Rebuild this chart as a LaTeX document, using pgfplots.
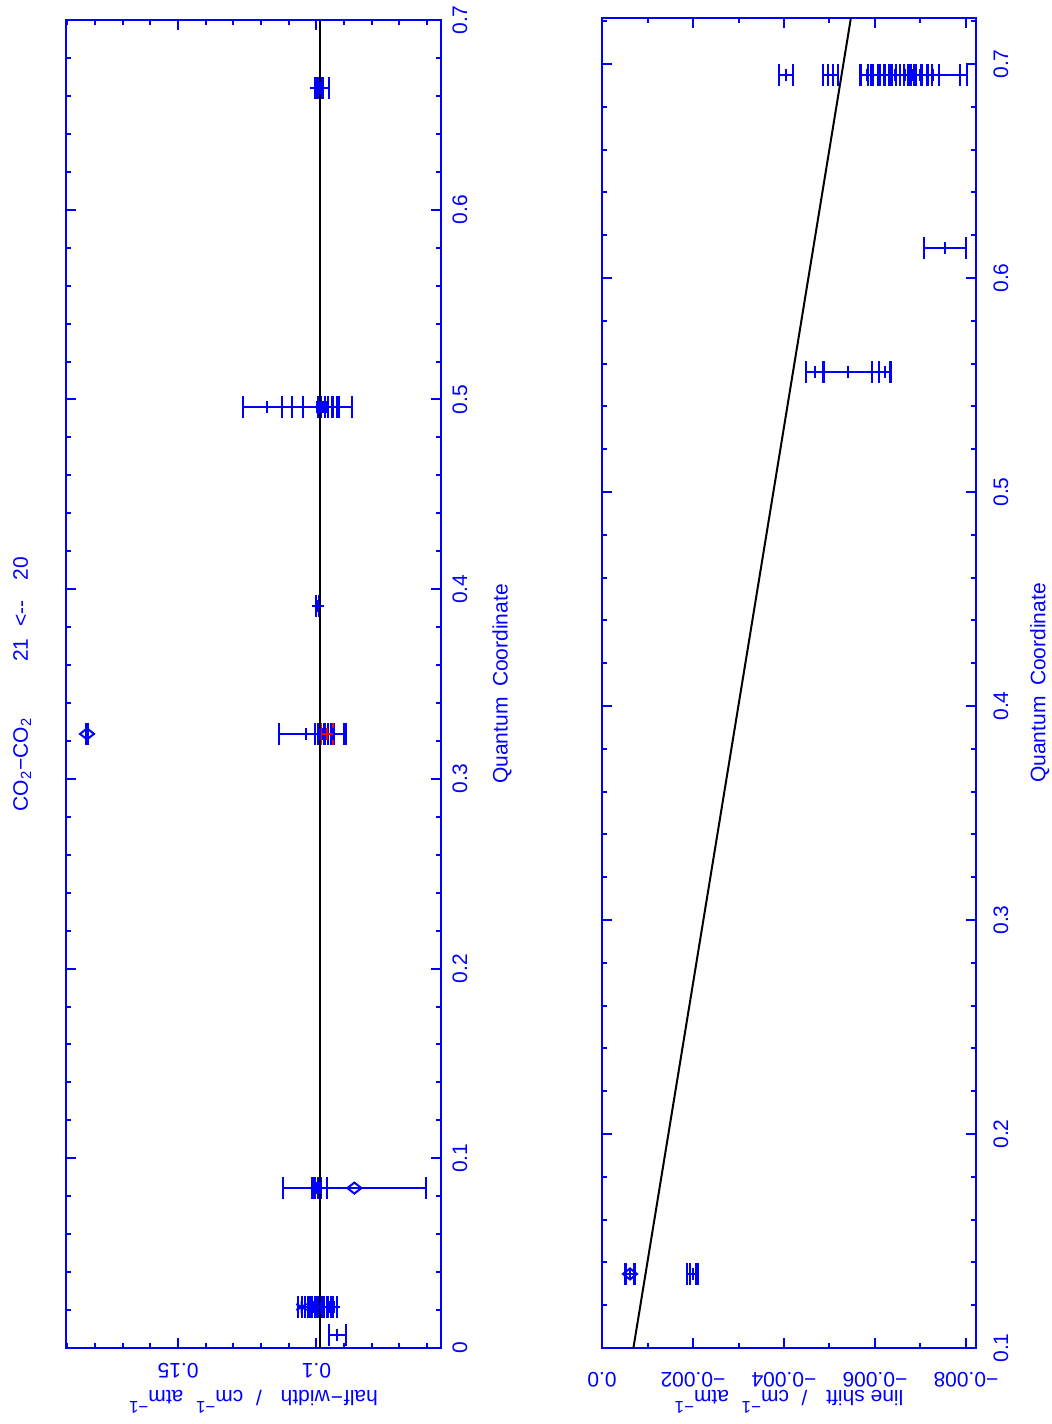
\documentclass[border=0pt]{standalone}
\usepackage{pgfplots}
\pgfplotsset{compat=1.18}
\usepackage{pgfplotstable}
\usepackage{fontspec}
\setmainfont{Liberation Sans}
\definecolor{pgblue}{RGB}{0,0,255}
\definecolor{pgred}{RGB}{255,0,0}
\newcommand{\supm}{\raisebox{0.5em}{\fontsize{8.5}{9}\selectfont −1}}

% left panel: x = half-width, y = quantum coordinate, e = error of half-width
\pgfplotstableread{
x y e
0.0924 0.0068 0.0029
0.1040 0.0216 0.0011
0.1029 0.0216 0.0014
0.1014 0.0216 0.0011
0.1004 0.0216 0.0011
0.0993 0.0216 0.0014
0.0982 0.0216 0.0011
0.0971 0.0216 0.0014
0.0960 0.0216 0.0011
0.0950 0.0216 0.0011
0.0938 0.0216 0.0011
0.1004 0.0843 0.0011
0.0993 0.0843 0.0011
0.0986 0.0843 0.0025
0.1000 0.0843 0.0007
0.1036 0.3237 0.0101
0.0993 0.3237 0.0011
0.0989 0.3237 0.0007
0.0975 0.3237 0.0018
0.0957 0.3237 0.0011
0.0941 0.3237 0.0049
0.0935 0.3237 0.0036
0.0993 0.3911 0.0007
0.0996 0.3911 0.0004
0.1177 0.4960 0.0090
0.0998 0.4960 0.0128
0.0987 0.4960 0.0063
0.0968 0.4960 0.0025
0.0975 0.4960 0.0018
0.0961 0.4960 0.0022
0.0979 0.4960 0.0011
0.0921 0.4960 0.0004
0.0996 0.6642 0.0011
0.1000 0.6642 0.0007
0.0978 0.6642 0.0022
0.0989 0.6642 0.0011
}\hwplus
\pgfplotstableread{
x y e
0.0863 0.0843 0.0258
0.1829 0.3237 0.0004
}\hwdiam
\pgfplotstableread{
x y e
0.1054 0.0216 0.0011
}\hwast
\pgfplotstableread{
x y e
0.0962 0.3237 0.0020
}\hwred

% right panel: x = line shift, y = quantum coordinate, e = error of line shift
\pgfplotstableread{
x y e
-0.00062 0.1346 0.00009
-0.00199 0.1346 0.00012
-0.00200 0.1346 0.00007
-0.00541 0.5561 0.00093
-0.00540 0.5561 0.00054
-0.00468 0.5561 0.00019
-0.00622 0.5561 0.00013
-0.00754 0.6140 0.00046
-0.00404 0.6949 0.00016
-0.00497 0.6949 0.00011
-0.00508 0.6949 0.00011
-0.00582 0.6949 0.00013
-0.00596 0.6949 0.00011
-0.00606 0.6949 0.00015
-0.00620 0.6949 0.00011
-0.00633 0.6949 0.00013
-0.00644 0.6949 0.00011
-0.00655 0.6949 0.00018
-0.00666 0.6949 0.00011
-0.00677 0.6949 0.00013
-0.00690 0.6949 0.00011
-0.00701 0.6949 0.00015
-0.00714 0.6949 0.00011
-0.00727 0.6949 0.00013
-0.00699 0.6949 0.00087
-0.00684 0.6949 0.00118
}\lsplus
\pgfplotstableread{
x y e
-0.000615 0.1346 0.00011
}\lsdiam

\begin{document}
\begin{tikzpicture}
\useasboundingbox (0pt,0pt) rectangle (526pt,-712pt);
\pgfplotsset{
  panel/.style={
    scale only axis, anchor=south west, x dir=reverse,
    scaled x ticks=false, scaled y ticks=false,
    axis line style={pgblue, line width=1pt},
    every tick/.style={pgblue, line width=1pt},
    every minor tick/.style={pgblue, line width=1pt},
    major tick length=5pt, minor tick length=2.5pt,
    tick align=inside,
    yticklabel pos=right,
    every y tick label/.style={rotate=90, anchor=north, inner sep=0pt, text=pgblue, font=\fontsize{10.5}{12.6}\selectfont},
    every x tick label/.style={rotate=180, anchor=south, inner sep=0pt, text=pgblue, font=\fontsize{10.5}{12.6}\selectfont},
    every axis x label/.style={at={(axis description cs:0.5,-0.032)}, rotate=180, anchor=base, inner sep=0pt, text=pgblue, font=\fontsize{10.5}{12.6}\selectfont},
  },
  eb/.style={only marks, mark=+, mark size=3pt, color=pgblue, line width=1pt,
    error bars/x dir=both, error bars/x explicit,
    error bars/error mark=|,
    error bars/error bar style={line width=1pt},
    error bars/error mark options={mark size=5.5pt, line width=1pt}},
}
\begin{axis}[panel, at={(33pt,-674pt)}, width=187.5pt, height=664pt,
  xmin=0.055, xmax=0.1905, ymin=0, ymax=0.7,
  xtick={0.1,0.15}, xticklabels={0.1,0.15},
  minor xtick={0.06,0.07,0.08,0.09,0.11,0.12,0.13,0.14,0.16,0.17,0.18,0.19},
  ytick={0,0.1,0.2,0.3,0.4,0.5,0.6,0.7},
  yticklabels={0,0.1,0.2,0.3,0.4,0.5,0.6,0.7},
  minor ytick={0.02,0.04,0.06,0.08,0.12,0.14,0.16,0.18,0.22,0.24,0.26,0.28,0.32,0.34,0.36,0.38,0.42,0.44,0.46,0.48,0.52,0.54,0.56,0.58,0.62,0.64,0.66,0.68},
  xticklabel shift=7.5pt, yticklabel shift=5.5pt,
  xlabel={half\kern0.5pt−\kern0.5pt width\hspace{0.9em}/\hspace{0.6em}cm\supm\hspace{0.6em}atm\supm},
  ylabel={Quantum\hspace{0.5em}Coordinate},
  every axis y label/.style={at={(axis description cs:1.136,0.5)}, rotate=90, anchor=north, inner sep=0pt, text=pgblue, font=\fontsize{10.5}{12.6}\selectfont},
  title={CO\textsubscript{2}−CO\textsubscript{2}\hspace{28pt}21\hspace{6pt}<{-}{-}\hspace{10pt}20},
  every axis title/.style={at={(axis description cs:-0.1016,0.5)}, rotate=90, anchor=base, inner sep=0pt, text=pgblue, font=\fontsize{10.5}{12.6}\selectfont},
]
\addplot[eb] table[x=x, y=y, x error=e] {\hwplus};
\addplot[eb, mark=diamond, mark size=2.75pt, mark options={xscale=1.7}] table[x=x, y=y, x error=e] {\hwdiam};
\addplot[eb, mark=asterisk] table[x=x, y=y, x error=e] {\hwast};
\addplot[eb, color=pgred] table[x=x, y=y, x error=e] {\hwred};
\addplot[black, line width=1pt] coordinates {(0.0989,0) (0.0989,0.7)};
\end{axis}

\begin{axis}[panel, at={(301pt,-674pt)}, width=187pt, height=665pt,
  xmin=-0.00822, xmax=0, ymin=0.1, ymax=0.7215,
  xtick={0,-0.002,-0.004,-0.006,-0.008},
  xticklabels={0.0,−0.002,−0.004,−0.006,−0.008},
  minor xtick={-0.001,-0.003,-0.005,-0.007},
  ytick={0.1,0.2,0.3,0.4,0.5,0.6,0.7},
  yticklabels={0.1,0.2,0.3,0.4,0.5,0.6,0.7},
  minor ytick={0.12,0.14,0.16,0.18,0.22,0.24,0.26,0.28,0.32,0.34,0.36,0.38,0.42,0.44,0.46,0.48,0.52,0.54,0.56,0.58,0.62,0.64,0.66,0.68,0.72},
  xticklabel shift=12pt, yticklabel shift=8.5pt,
  xlabel={line shift\hspace{0.9em}/\hspace{0.6em}cm\supm\hspace{0.6em}atm\supm},
  ylabel={Quantum\hspace{0.5em}Coordinate},
  every axis y label/.style={at={(axis description cs:1.144,0.5)}, rotate=90, anchor=north, inner sep=0pt, text=pgblue, font=\fontsize{10.5}{12.6}\selectfont},
]
\addplot[eb] table[x=x, y=y, x error=e] {\lsplus};
\addplot[eb, mark=diamond, mark size=2.75pt, mark options={xscale=1.7}] table[x=x, y=y, x error=e] {\lsdiam};
\addplot[black, line width=1pt] coordinates {(-0.00069,0.1) (-0.00547,0.7215)};
\end{axis}
\end{tikzpicture}
\end{document}
